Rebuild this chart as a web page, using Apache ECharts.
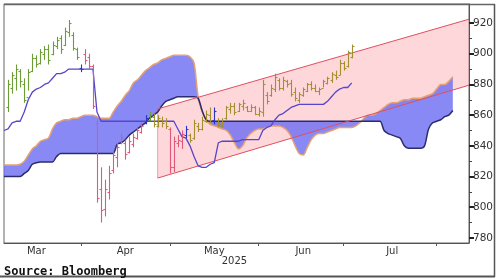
<!DOCTYPE html>
<html><head><meta charset="utf-8">
<script src="https://cdn.jsdelivr.net/npm/echarts@6/dist/echarts.min.js"></script>
<style>html,body{margin:0;padding:0;background:#fff}#c{width:500px;height:280px}</style>
</head><body><div id="c"></div>
<script>
// ---- axis categories (trading days) ----
const firstDay = '2025-03-04', lastDay = '2025-08-12';
const monthLabels = ['Mar', 'Apr', 'May', 'Jun', 'Jul'];
const monthLabelDates = ['2025-03-14', '2025-04-15', '2025-05-15', '2025-06-16', '2025-07-16'];
const monthTickDates = ['2025-03-31', '2025-04-30', '2025-05-30', '2025-06-30', '2025-07-31'];
const yearLabel = '2025', yearLabelDate = '2025-05-22';
const yTicks = [780, 800, 820, 840, 860, 880, 900, 920];
const yMinorTicks = [790, 810, 830, 850, 870, 890, 910];

// ---- price bars (from 2025-03-05) ----
const priceStart = '2025-03-05';
const priceLow   = [862,874,876,878,868,876,888,891,893,896,893,899,903,900,905,911,902,896,888,893,890,864,803,790,794,805,822,826,841,831,835,839,844,848,854,856,852,852,852,851,822,823,839,838,845,842,844,849,850,855,855,854,852,852,857,861,860,862,863,862,862,860,859,859,867,872,875,876,876,878,872,869,868,872,875,876,875,873,878,880,881,883,886,889,891,897];
const priceHigh  = [883,888,893,890,884,890,900,899,903,905,906,908,911,912,917,922,914,904,893,903,900,893,857,826,818,827,837,842,848,844,846,848,852,855,860,862,861,860,859,858,852,846,847,850,853,848,857,855,859,863,865,865,858,858,866,868,868,868,870,866,867,866,865,883,875,880,887,884,885,883,883,878,875,878,881,882,880,878,883,885,888,889,896,895,902,906];
const priceOpen  = [865,878,884,889,880,872,889,897,894,900,903,900,905,910,906,914,912,903,891,900,898,892,855,812,799,810,824,833,843,842,836,841,845,849,855,857,859,853,857,856,851,826,842,843,847,847,845,853,851,856,860,857,857,853,858,864,866,863,866,865,863,865,861,862,873,873,877,883,878,882,881,875,870,873,876,880,878,876,878,881,883,886,886,894,892,898];
const priceClose = [880,886,890,882,870,888,897,893,901,903,896,906,909,903,915,920,904,898,890,896,892,866,806,798,812,822,834,839,846,835,843,846,850,853,858,860,854,858,855,853,826,843,844,848,851,844,855,851,857,861,857,863,854,857,865,866,862,867,868,863,865,861,863,880,869,878,885,878,883,880,874,871,874,877,880,878,876,877,882,884,887,885,894,891,901,905];
const barKind = ['g','g','g','g','g','g','g','g','g','g','g','g','g','g','g','g','g','g','b','r','r','r','r','r','r','r','r','r','r','r','r','r','r','r','b','g','o','o','o','o','r','r','r','r','b','o','o','o','o','o','o','b','o','o','o','o','o','o','o','o','o','o','o','o','o','o','o','o','o','o','o','o','o','o','o','o','o','o','o','o','o','o','o','o','o','o'];

// ---- base line (from 2025-03-04) ----
const kijunStart = '2025-03-04';
const kijun = [850,851,855,856,856,862,870,875,877,878,880,881,884,887,887,888,890,890,890,890,890,890,890,862,
  856,856,856,856,856,856,856,856,856,856,856,856,856,856,856,856,856,856,856,
  851,846,845,840,833,827,826,826,828,829,842,843,843,843,843,843,844,844,844,844,844,
  850,852,853,857,860,861,863,865,866,867,867,867,867,867,867,867,869,872,875,877,878,878,881];

// ---- cloud spans (from 2025-03-04) ----
const spanStart = '2025-03-04';
const spanA = [827.5,827.5,827.5,827.5,828,830,834,838,840,843,
  844,845,851,855,856,857,857,858,858,859,
  860,860,860,859,858,858,858,862,866,869,
  873,876,881,883,886,889,891,893,894,896,
  897,898,899,899,899,899,898,894,872,862,
  857,854,853,852,851,850,847,842,838,840,
  845,848,850,851,851,852,853,853,853,852,
  850,846,840,835,834,839,844,847,848,848,
  849,850,851,852,852,852,852,853,855,858,
  860,860,861,863,865,867,868,868,869,870,
  870,871,871,871,872,873,874,877,880,880,
  882,885];
const spanB = [820,820,820,820,820,822,824,828,829,829.5,
  829.5,829.5,829.5,833,835,835,835,835,835,835,
  835,835,835,835,835,835,835,835,841,842,
  844,847,849,851,853,855,858,860,862,866,
  869,870,871,872,872,872,872,872,871,863,
  857,856,856,856,856,856,856,856,856,856,
  856,856,856,856,856,856,856,856,856,856,
  856,856,856,856,856,856,856,856,856,856,
  856,856,856,856,856,856,856,856,856,856,
  856,856,856,856,850,848,847,846,845,840,
  838.5,838.5,838.5,838.5,840,851,855,856,857,859,
  860,863];

// ---- trend channel ----
const channelDates = ['2025-04-25', '2025-08-12'];
const channelUpper = [864, 922.5];
const channelLower = [819, 879.5];

// ================= build =================
const cats = (function () {
  const out = []; let t = Date.parse(firstDay + 'T00:00:00Z'); const end = Date.parse(lastDay + 'T00:00:00Z');
  while (t <= end) { const d = new Date(t); const w = d.getUTCDay(); if (w !== 0 && w !== 6) out.push(d.toISOString().slice(0, 10)); t += 86400000; }
  return out;
})();
const idx = s => cats.indexOf(s);
function place(arr, start) { const out = cats.map(() => null); arr.forEach((v, k) => { out[start + k] = v; }); return out; }

const p0 = idx(priceStart);
const ohlc = priceOpen.map((o, k) => [p0 + k, o, priceHigh[k], priceLow[k], priceClose[k]]);
const s0 = idx(spanStart);
const cloudBase = place(spanA.map((a, k) => Math.min(a, spanB[k])), s0);
const cloudDiff = place(spanA.map((a, k) => Math.abs(a - spanB[k])), s0);
const kData = place(kijun, idx(kijunStart));
const chanData = [[idx(channelDates[0]), idx(channelDates[1]), channelUpper[0], channelUpper[1], channelLower[0], channelLower[1]]];
const barColors = { g: '#6c9c34', o: '#a28f2e', r: '#e0587a', b: '#2c34c4' };
const FONT = 'DejaVu Sans';
const SM = 0.3;

const chart = echarts.init(document.getElementById('c'), null, { renderer: 'canvas' });
chart.setOption({
  animation: false,
  backgroundColor: '#ffffff',
  grid: { left: 4, right: 31, top: 4, bottom: 37, show: true, borderColor: '#666', borderWidth: 1 },
  xAxis: [{
    type: 'category', data: cats, boundaryGap: false,
    axisLine: { lineStyle: { color: '#555', width: 1 } },
    axisTick: { show: true, length: 3, interval: (i, v) => monthTickDates.indexOf(v) >= 0, lineStyle: { color: '#555' } },
    axisLabel: { interval: (i, v) => monthLabelDates.indexOf(v) >= 0, formatter: v => monthLabels[monthLabelDates.indexOf(v)] || '',
      fontFamily: FONT, fontSize: 10, color: '#333', margin: 3 },
    splitLine: { show: false }
  }, {
    type: 'category', data: cats, boundaryGap: false, position: 'bottom',
    axisLine: { show: false }, axisTick: { show: false },
    axisLabel: { interval: (i, v) => v === yearLabelDate, formatter: v => (v === yearLabelDate ? yearLabel : ''),
      fontFamily: FONT, fontSize: 10, color: '#333', margin: 13 },
    splitLine: { show: false }
  }],
  yAxis: [{
    type: 'value', position: 'right', min: 776.7, max: 932.4, scale: true,
    axisLine: { show: true, lineStyle: { color: '#555', width: 1 } },
    axisTick: { show: true, length: 5, customValues: yTicks, lineStyle: { color: '#222', width: 2 } },
    axisLabel: { customValues: yTicks, fontFamily: FONT, fontSize: 10.5, color: '#333', margin: 4 },
    splitLine: { show: false }
  }, {
    type: 'value', position: 'right', min: 776.7, max: 932.4, scale: true,
    axisLine: { show: false },
    axisTick: { show: true, length: 3, customValues: yMinorTicks, lineStyle: { color: '#444', width: 1 } },
    axisLabel: { show: false }, splitLine: { show: false }
  }],
  series: [
    { type: 'custom', name: 'channelFill', z: 1, silent: true, data: chanData, encode: { x: [0, 1], y: [2, 3, 4, 5] },
      renderItem: (p, api) => {
        const a = api.coord([api.value(0), api.value(2)]), b = api.coord([api.value(1), api.value(3)]);
        const c = api.coord([api.value(1), api.value(5)]), d = api.coord([api.value(0), api.value(4)]);
        return { type: 'group', children: [
          { type: 'polygon', shape: { points: [a, b, c, d] }, style: { fill: 'rgba(250,160,166,0.42)' } },
          { type: 'line', shape: { x1: a[0], y1: a[1], x2: d[0], y2: d[1] }, style: { stroke: '#f2a0aa', lineWidth: 1 } }
        ] };
      } },
    { type: 'line', name: 'cloudBase', stack: 'cloud', data: cloudBase, z: 2, showSymbol: false, silent: true, smooth: SM,
      lineStyle: { opacity: 0 }, areaStyle: { opacity: 0 } },
    { type: 'line', name: 'cloud', stack: 'cloud', data: cloudDiff, z: 2, showSymbol: false, silent: true, smooth: SM,
      lineStyle: { opacity: 0 }, areaStyle: { color: 'rgba(108,108,242,0.8)', opacity: 1 } },
    { type: 'line', name: 'spanA', data: place(spanA, s0), z: 3, showSymbol: false, silent: true, smooth: SM,
      lineStyle: { color: '#e4a272', width: 1.5 } },
    { type: 'line', name: 'spanB', data: place(spanB, s0), z: 3, showSymbol: false, silent: true, smooth: SM,
      lineStyle: { color: '#2c2c6c', width: 1.5 } },
    { type: 'custom', name: 'channelLines', z: 4, silent: true, data: chanData, encode: { x: [0, 1], y: [2, 3, 4, 5] },
      renderItem: (p, api) => {
        const a = api.coord([api.value(0), api.value(2)]), b = api.coord([api.value(1), api.value(3)]);
        const c = api.coord([api.value(1), api.value(5)]), d = api.coord([api.value(0), api.value(4)]);
        return { type: 'group', children: [
          { type: 'line', shape: { x1: a[0], y1: a[1], x2: b[0], y2: b[1] }, style: { stroke: '#e0505e', lineWidth: 1 } },
          { type: 'line', shape: { x1: d[0], y1: d[1], x2: c[0], y2: c[1] }, style: { stroke: '#e0505e', lineWidth: 1 } }
        ] };
      } },
    { type: 'line', name: 'kijun', data: kData, z: 5, showSymbol: false, silent: true,
      lineStyle: { color: '#5646cc', width: 1.3 } },
    { type: 'custom', name: 'price', z: 6, silent: true, data: ohlc, encode: { x: 0, y: [1, 2, 3, 4] },
      renderItem: (p, api) => {
        const i = api.value(0);
        const h = api.coord([i, api.value(2)]), l = api.coord([i, api.value(3)]);
        const o = api.coord([i, api.value(1)]), c = api.coord([i, api.value(4)]);
        const x = Math.round(h[0]) + 0.5;
        const col = barColors[barKind[p.dataIndex]];
        const st = { stroke: col, lineWidth: 1.1 };
        return { type: 'group', children: [
          { type: 'line', shape: { x1: x, y1: h[1], x2: x, y2: l[1] }, style: st },
          { type: 'line', shape: { x1: x - 2, y1: Math.round(o[1]) + 0.5, x2: x, y2: Math.round(o[1]) + 0.5 }, style: st },
          { type: 'line', shape: { x1: x, y1: Math.round(c[1]) + 0.5, x2: x + 2, y2: Math.round(c[1]) + 0.5 }, style: st }
        ] };
      } }
  ],
  graphic: [
    { type: 'line', silent: true, shape: { x1: 4, y1: 4.5, x2: 495, y2: 4.5 }, style: { stroke: '#666', lineWidth: 1.5 } },
    { type: 'line', silent: true, shape: { x1: 494.5, y1: 4, x2: 494.5, y2: 277 }, style: { stroke: '#555', lineWidth: 1.5 } },
    { type: 'line', silent: true, shape: { x1: 0, y1: 276.5, x2: 495, y2: 276.5 }, style: { stroke: '#555', lineWidth: 2 } },
    { type: 'text', silent: true, left: 4, top: 266, style: { text: 'Source: Bloomberg', font: 'bold 12px "DejaVu Sans Mono"', fill: '#111' } }
  ]
});
</script>
</body></html>
